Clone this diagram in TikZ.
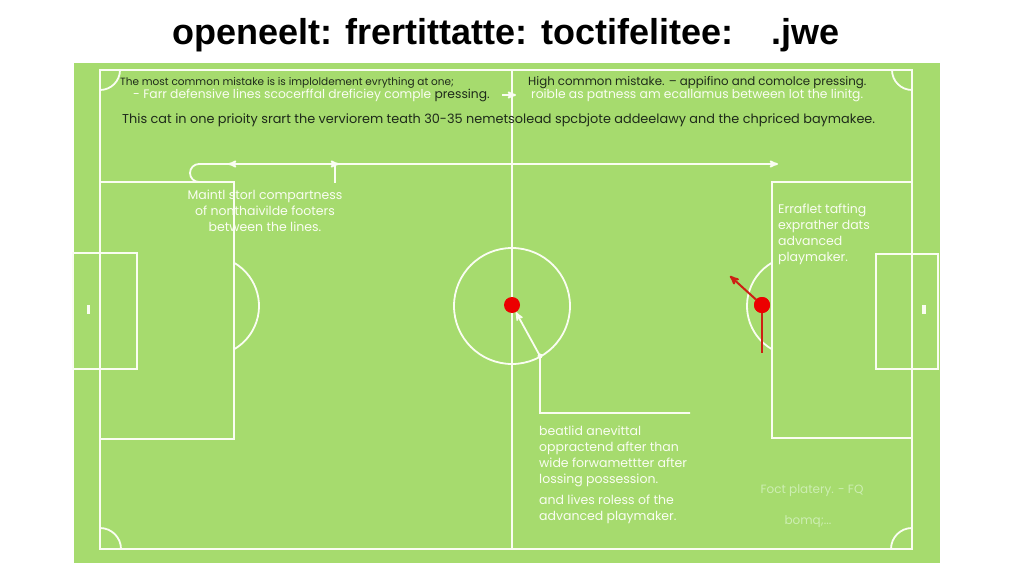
\documentclass[tikz,border=0pt]{standalone}
\usepackage{fontspec}
\setmainfont{Poppins}
\newfontfamily\headfont{Liberation Sans}
\usetikzlibrary{arrows,positioning}
\definecolor{grass}{RGB}{166,219,110}
\definecolor{chalk}{RGB}{250,253,242}
\definecolor{ink}{RGB}{30,42,26}
\definecolor{marker}{RGB}{236,0,0}
\definecolor{runline}{RGB}{205,32,20}
\definecolor{faint}{RGB}{205,238,178}

\begin{document}
\begin{tikzpicture}[x=1pt,y=-1pt,>=stealth',line join=miter,
                    every node/.style={inner sep=0pt}]
  \tikzstyle{chalkline}=[draw=chalk,line width=1.8pt]
  \tikzstyle{darktext}=[text=ink,anchor=base west,font=\fontsize{12.5}{15}\selectfont]
  \tikzstyle{lighttext}=[text=chalk,anchor=base west,font=\fontsize{12.3}{15}\selectfont]
  \tikzstyle{notetext}=[text=chalk,align=left,font=\fontsize{12.5}{16}\selectfont]
  \tikzstyle{player}=[circle,fill=marker,minimum size=16pt]
  \tikzstyle{redline}=[draw=runline,line width=2pt]

  \useasboundingbox[fill=white] (0,0) rectangle (1024,585);
  \fill[grass] (74,63) rectangle (940,563);

  \node[font=\headfont\bfseries\fontsize{36}{40}\selectfont,anchor=base] (title) at (506,45)
    {openeelt: frertittatte: toctifelitee:\hspace{38pt}.jwe};

  \draw[chalkline] (100,70) rectangle (912,549);
  \draw[chalkline] (512,70) -- (512,549);
  \draw[chalkline] (512,306) circle (58);
  \draw[chalkline] (100,182) rectangle (234,439);
  \draw[chalkline] (772,182) rectangle (912,438);
  \draw[chalkline] (73,253) rectangle (137,369);
  \draw[chalkline] (876,254) rectangle (938,369);
  \draw[chalkline] (234,262.7) arc[start angle=-60,end angle=60,radius=50];
  \draw[chalkline] (772,349.3) arc[start angle=120,end angle=240,radius=50];
  \draw[chalkline] (100,90) arc[start angle=90,end angle=0,radius=20];
  \draw[chalkline] (892,70) arc[start angle=180,end angle=90,radius=20];
  \draw[chalkline] (100,528) arc[start angle=270,end angle=360,radius=21];
  \draw[chalkline] (891,549) arc[start angle=180,end angle=270,radius=21];
  \fill[chalk] (86.5,305) rectangle (90,314);
  \fill[chalk] (922,305) rectangle (925.5,314);

  \node[darktext] (mistake) at (120,86) {\fontsize{10.5}{13}\selectfont The most common mistake is is imploldement evrything at one;};
  \node[lighttext] (lines) at (133,99) {- Farr defensive lines scocerffal dreficiey comple \textcolor{ink}{pressing.}};
  \node[darktext,font=\fontsize{11.8}{14}\selectfont] (high) at (528,86) {High common mistake. -- appifino and comolce pressing.};
  \node[lighttext] (roible) at (531,99) {roible as patness am ecallamus between lot the linitg.};
  \node[darktext,font=\fontsize{12.85}{15}\selectfont] (priority) at (122,124) {This cat in one prioity srart the verviorem teath 30-35 nemetsolead spcbjote addeelawy and the chpriced baymakee.};
  \draw[chalkline,->] (502,95) -- (516,95);

  \node[notetext,align=center,anchor=north] (compact) at (265,190)
    {Maintl storl compartness\\of nonthaivilde footers\\between the lines.};
  \node[notetext,anchor=north west] (target) at (778,204)
    {Erraflet tafting\\exprather dats\\advanced\\playmaker.};
  \node[notetext,anchor=north west] (press) at (539,426)
    {beatlid anevittal\\oppractend after than\\wide forwamettter after\\lossing possession.};
  \node[notetext,below=7pt of press.south west,anchor=north west] (roles)
    {and lives roless of the\\advanced playmaker.};
  \node[text=faint,font=\fontsize{12}{14}\selectfont,anchor=base] (foot) at (812,493) {Foct platery. - FQ};
  \node[text=faint,font=\fontsize{12}{14}\selectfont,anchor=base] (bonus) at (808,524) {bomq;...};

  \node[player] (ballC) at (512,305) {};
  \node[player] (mover) at (762,305) {};

  \coordinate (hook) at (207,182);
  \coordinate (runend) at (778,164);
  \draw[chalkline,->] (hook) -- (199,182) arc[start angle=90,end angle=270,radius=9] -- (runend);
  \draw[chalkline,->] (240,164) -- (228,164);
  \draw[chalkline] (335,164) -- (335,183);
  \draw[chalkline,->] (325,164) -- (339,164);

  \coordinate (tail) at (690,413);
  \coordinate (bend) at (540,356);
  \draw[chalkline,->] (tail) -| (bend) -- (ballC);
  \fill[chalk] (bend) circle (2.5);

  \coordinate (pass) at (730,276);
  \coordinate (drop) at (762,353);
  \draw[redline,->] (mover) -- (pass);
  \draw[redline] (mover.center) -- (drop);
  \node[player] at (mover) {};
\end{tikzpicture}
\end{document}
